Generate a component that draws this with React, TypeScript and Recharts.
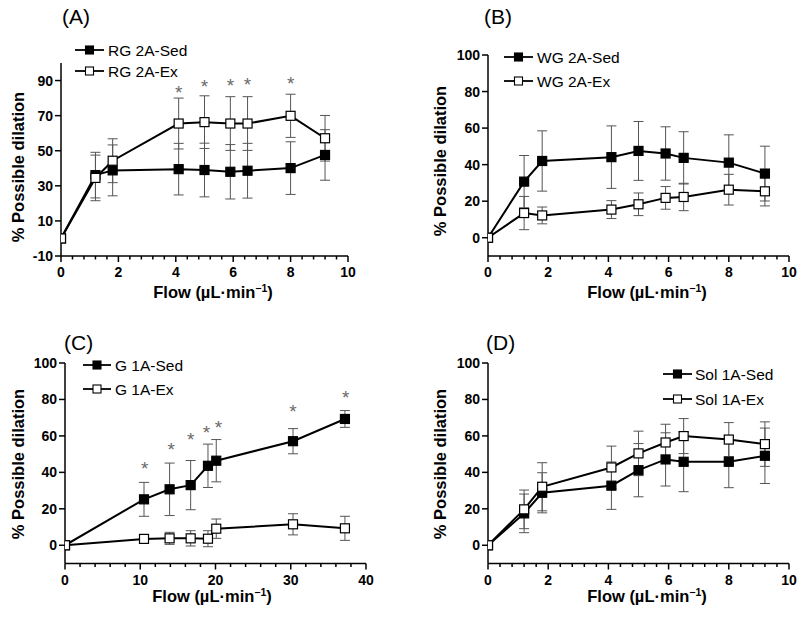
import React from 'react';
import { LineChart, Line, XAxis, YAxis, ErrorBar } from 'recharts';

const FONT = '"Liberation Sans", Arial, Helvetica, sans-serif';

// ---------- Panel A ----------
const aFlow = [0, 1.2, 1.8, 4.1, 5.0, 5.9, 6.5, 8.0, 9.2];
const aSed = [0, 36.1, 38.8, 39.5, 39.0, 38.0, 38.6, 40.1, 47.6];
const aSedErr = [0, 13, 14.5, 14.7, 15.3, 15.5, 15.6, 15, 14.4];
const aEx = [0, 34.5, 44.3, 65.5, 66.3, 65.5, 65.5, 69.9, 57.1];
const aExErr = [0, 13, 12.5, 14.5, 15, 15.3, 15.3, 12.3, 13];
const aStarX = [4.1, 5.0, 5.9, 6.5, 8.0];
const aStarY = [84.8, 88.1, 88.7, 89.6, 90.0];
const aXTicks = [0, 2, 4, 6, 8, 10];
const aYTicks = [-10, 10, 30, 50, 70, 90];

// ---------- Panel B ----------
const bFlow = [0, 1.2, 1.8, 4.1, 5.0, 5.9, 6.5, 8.0, 9.2];
const bSed = [0, 30.7, 42.0, 44.1, 47.5, 46.1, 43.7, 41.1, 35.1];
const bSedErr = [0, 14.3, 16.5, 17.1, 16.1, 14.6, 14.3, 15.2, 15];
const bEx = [0, 13.5, 12.2, 15.4, 18.3, 21.8, 22.3, 26.3, 25.4];
const bExErr = [0, 9.1, 4.6, 4.9, 6.2, 6.2, 7.5, 8.4, 8];
const bXTicks = [0, 2, 4, 6, 8, 10];
const bYTicks = [0, 20, 40, 60, 80, 100];

// ---------- Panel C ----------
const cFlow = [0, 10.5, 13.9, 16.7, 19.0, 20.1, 30.3, 37.2];
const cSed = [0, 25.2, 30.7, 33.0, 43.6, 46.4, 57.1, 69.3];
const cSedErr = [0, 9.3, 14.4, 13.5, 11.9, 11.6, 6.9, 4.6];
const cEx = [0, 3.5, 3.8, 3.8, 3.6, 9.1, 11.5, 9.3];
const cExErr = [0, 1.2, 3.3, 4.2, 4.4, 5.3, 5.8, 6.6];
const cStarX = [10.6, 14.1, 16.7, 18.8, 20.4, 30.3, 37.3];
const cStarY = [44, 54, 59.9, 63.7, 66.3, 75, 82.9];
const cXTicks = [0, 10, 20, 30, 40];
const cYTicks = [0, 20, 40, 60, 80, 100];

// ---------- Panel D ----------
const dFlow = [0, 1.2, 1.8, 4.1, 5.0, 5.9, 6.5, 8.0, 9.2];
const dSed = [0, 17.5, 28.8, 32.7, 41.2, 47.1, 45.8, 45.8, 49.1];
const dSedErr = [0, 10.6, 11, 13, 14.6, 14.6, 16.4, 14.2, 15.2];
const dEx = [0, 19.7, 32.1, 42.7, 50.4, 56.4, 59.9, 58.0, 55.5];
const dExErr = [0, 10.6, 13.2, 11.7, 12.2, 10, 9.6, 9.3, 12.2];
const dXTicks = [0, 2, 4, 6, 8, 10];
const dYTicks = [0, 20, 40, 60, 80, 100];

const rows = (xs: number[], ys: number[], es: number[]) =>
  xs.map((x, i) => ({ x, y: ys[i], e: es[i] }));
const starRows = (xs: number[], ys: number[]) => xs.map((x, i) => ({ x, y: ys[i] }));

const withMinor = (major: number[], step: number) => {
  const out: number[] = [];
  const max = major[major.length - 1];
  for (let i = 0; i * step <= max + 1e-9; i++) out.push(Math.round(i * step * 1000) / 1000);
  return out;
};

const SquareDot = (filled: boolean, size = 9) => (props: any) => {
  const { cx, cy } = props;
  if (cx == null || cy == null) return <g />;
  return (
    <rect
      x={cx - size / 2}
      y={cy - size / 2}
      width={size}
      height={size}
      fill={filled ? '#000' : '#fff'}
      stroke="#000"
      strokeWidth={1.2}
    />
  );
};

const StarDot = (props: any) => {
  const { cx, cy } = props;
  if (cx == null || cy == null) return <g />;
  return (
    <text x={cx} y={cy + 9.5} textAnchor="middle" fontSize={19} fill="#6a6a6a" fontFamily={FONT}>
      *
    </text>
  );
};

const makeXTick = (major: number[]) => (props: any) => {
  const { x, y, payload } = props;
  const v = payload.value;
  const isMajor = major.some((m) => Math.abs(m - v) < 1e-6);
  return (
    <g>
      <line x1={x} x2={x} y1={y} y2={y + (isMajor ? 6 : 3.5)} stroke="#000" strokeWidth={1.5} />
      {isMajor && (
        <text x={x} y={y + 21} textAnchor="middle" fontSize={14} fontWeight="bold" fontFamily={FONT} fill="#000">
          {String(v)}
        </text>
      )}
    </g>
  );
};

const YTick = (props: any) => {
  const { x, y, payload } = props;
  return (
    <g>
      <line x1={x} x2={x - 6} y1={y} y2={y} stroke="#000" strokeWidth={1.5} />
      <text x={x - 8} y={y + 5} textAnchor="end" fontSize={14} fontWeight="bold" fontFamily={FONT} fill="#000">
        {String(payload.value)}
      </text>
    </g>
  );
};

const XLabel = (props: any) => {
  const { lx, ly } = props;
  return (
    <text x={lx} y={ly} textAnchor="middle" fontSize={16.5} fontWeight="bold" fontFamily={FONT} fill="#000">
      Flow (µL·min
      <tspan dy={-6} fontSize={10.5}>−1</tspan>
      <tspan dy={6}>)</tspan>
    </text>
  );
};

const YLabel = (props: any) => {
  const { lx, ly } = props;
  return (
    <text
      x={lx}
      y={ly}
      transform={`rotate(-90 ${lx} ${ly})`}
      textAnchor="middle"
      dominantBaseline="central"
      fontSize={16.5}
      fontWeight="bold"
      fontFamily={FONT}
      fill="#000"
    >
      % Possible dilation
    </text>
  );
};

type PanelProps = {
  left: number;
  top: number;
  plot: { l: number; r: number; t: number; b: number };
  xMax: number;
  xMajor: number[];
  xStep: number;
  yTicks: number[];
  yMin: number;
  sed: any[];
  ex: any[];
  stars?: any[];
  title: string;
  titleX: number;
  titleY: number;
  names: [string, string];
  leg: { x1: number; x2: number; tx: number; y1: number; y2: number };
  xLab: { x: number; y: number };
  yLab: { x: number; y: number };
};

const W = 400;
const H = 309;

function Panel(p: PanelProps) {
  const ticks = withMinor(p.xMajor, p.xStep);
  const legItem = (y: number, name: string, filled: boolean) => (
    <g>
      <line x1={p.leg.x1} x2={p.leg.x2} y1={y} y2={y} stroke="#000" strokeWidth={1.8} />
      <rect
        x={(p.leg.x1 + p.leg.x2) / 2 - 4}
        y={y - 4}
        width={8}
        height={8}
        fill={filled ? '#000' : '#fff'}
        stroke="#000"
        strokeWidth={1.1}
      />
      <text x={p.leg.tx} y={y + 5.5} fontSize={15.5} fontFamily={FONT} fill="#000">
        {name}
      </text>
    </g>
  );
  return (
    <div style={{ position: 'absolute', left: p.left, top: p.top, width: W, height: H }}>
      <LineChart
        width={W}
        height={H}
        margin={{ top: p.plot.t, right: W - p.plot.r, bottom: 0, left: 0 }}
      >
        <XAxis
          type="number"
          dataKey="x"
          domain={[0, p.xMax]}
          ticks={ticks}
          interval={0}
          allowDataOverflow
          height={H - p.plot.b}
          tickSize={0}
          tickMargin={0}
          tickLine={false}
          axisLine={{ stroke: '#000', strokeWidth: 1.5 }}
          tick={makeXTick(p.xMajor)}
          label={<XLabel lx={p.xLab.x} ly={p.xLab.y} />}
        />
        <YAxis
          type="number"
          dataKey="y"
          domain={[p.yMin, 100]}
          ticks={p.yTicks}
          interval={0}
          allowDataOverflow
          width={p.plot.l}
          tickSize={0}
          tickMargin={0}
          tickLine={false}
          axisLine={{ stroke: '#000', strokeWidth: 1.5 }}
          tick={YTick}
          label={<YLabel lx={p.yLab.x} ly={p.yLab.y} />}
        />
        <Line
          data={p.sed}
          dataKey="y"
          type="linear"
          stroke="#000"
          strokeWidth={2}
          dot={SquareDot(true)}
          activeDot={false}
          isAnimationActive={false}
        >
          <ErrorBar dataKey="e" width={5} stroke="#555" strokeWidth={1} />
        </Line>
        <Line
          data={p.ex}
          dataKey="y"
          type="linear"
          stroke="#000"
          strokeWidth={2}
          dot={SquareDot(false)}
          activeDot={false}
          isAnimationActive={false}
        >
          <ErrorBar dataKey="e" width={5} stroke="#555" strokeWidth={1} />
        </Line>
        {p.stars && (
          <Line
            data={p.stars}
            dataKey="y"
            stroke="none"
            dot={StarDot}
            activeDot={false}
            isAnimationActive={false}
          />
        )}
      </LineChart>
      <svg
        width={W}
        height={H}
        style={{ position: 'absolute', left: 0, top: 0, pointerEvents: 'none' }}
      >
        <text x={p.titleX} y={p.titleY} fontSize={21} fontFamily={FONT} fill="#000">
          {p.title}
        </text>
        {legItem(p.leg.y1, p.names[0], true)}
        {legItem(p.leg.y2, p.names[1], false)}
      </svg>
    </div>
  );
}

export default function App() {
  return (
    <div
      style={{
        position: 'absolute',
        left: 0,
        top: 0,
        width: 800,
        height: 618,
        background: '#fff',
        fontFamily: FONT,
      }}
    >
      <Panel
        left={0}
        top={0}
        plot={{ l: 61, r: 348, t: 63, b: 256 }}
        xMax={10}
        xMajor={aXTicks}
        xStep={0.4}
        yTicks={aYTicks}
        yMin={-10}
        sed={rows(aFlow, aSed, aSedErr)}
        ex={rows(aFlow, aEx, aExErr)}
        stars={starRows(aStarX, aStarY)}
        title="(A)"
        titleX={62}
        titleY={24}
        names={['RG 2A-Sed', 'RG 2A-Ex']}
        leg={{ x1: 75, x2: 104, tx: 108, y1: 50, y2: 71 }}
        xLab={{ x: 213, y: 298 }}
        yLab={{ x: 18, y: 167 }}
      />
      <Panel
        left={400}
        top={0}
        plot={{ l: 88, r: 389, t: 55, b: 256 }}
        xMax={10}
        xMajor={bXTicks}
        xStep={0.4}
        yTicks={bYTicks}
        yMin={-10}
        sed={rows(bFlow, bSed, bSedErr)}
        ex={rows(bFlow, bEx, bExErr)}
        title="(B)"
        titleX={84}
        titleY={24}
        names={['WG 2A-Sed', 'WG 2A-Ex']}
        leg={{ x1: 104, x2: 133, tx: 137, y1: 57, y2: 81 }}
        xLab={{ x: 247, y: 298 }}
        yLab={{ x: 40, y: 161 }}
      />
      <Panel
        left={0}
        top={309}
        plot={{ l: 65, r: 366, t: 54, b: 254.5 }}
        xMax={40}
        xMajor={cXTicks}
        xStep={2}
        yTicks={cYTicks}
        yMin={-10}
        sed={rows(cFlow, cSed, cSedErr)}
        ex={rows(cFlow, cEx, cExErr)}
        stars={starRows(cStarX, cStarY)}
        title="(C)"
        titleX={64}
        titleY={41}
        names={['G 1A-Sed', 'G 1A-Ex']}
        leg={{ x1: 83, x2: 111, tx: 115, y1: 56, y2: 80 }}
        xLab={{ x: 212, y: 293 }}
        yLab={{ x: 18, y: 155 }}
      />
      <Panel
        left={400}
        top={309}
        plot={{ l: 88, r: 389, t: 54, b: 254.5 }}
        xMax={10}
        xMajor={dXTicks}
        xStep={0.4}
        yTicks={dYTicks}
        yMin={-10}
        sed={rows(dFlow, dSed, dSedErr)}
        ex={rows(dFlow, dEx, dExErr)}
        title="(D)"
        titleX={86}
        titleY={41}
        names={['Sol 1A-Sed', 'Sol 1A-Ex']}
        leg={{ x1: 263, x2: 292, tx: 295, y1: 65, y2: 90 }}
        xLab={{ x: 247, y: 293 }}
        yLab={{ x: 40, y: 155 }}
      />
    </div>
  );
}
